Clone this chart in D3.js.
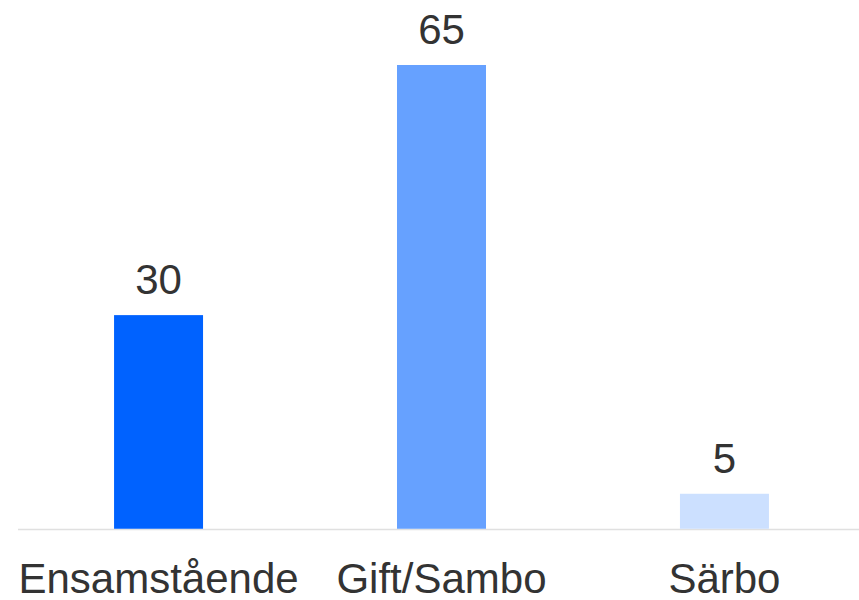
<!DOCTYPE html>
<html>
<head>
<meta charset="utf-8">
<script src="https://cdn.jsdelivr.net/npm/d3@7"></script>
<style>
  body { margin: 0; background: #fff; }
  text { font-family: "Liberation Sans", Arial, sans-serif; fill: #333; }
</style>
</head>
<body>
<svg id="chart" width="859" height="600"></svg>
<script>
var categories = ['Ensamstående', 'Gift/Sambo', 'Särbo'];
var values = [30, 65, 5];
var colors = ['#0062ff', '#66a1ff', '#cce0ff'];

var svg = d3.select('#chart');

var x = d3.scaleBand()
    .domain(categories)
    .range([17, 866])
    .paddingInner(0.6855)
    .paddingOuter(0.343);

var y = d3.scaleLinear()
    .domain([0, 65])
    .range([529.5, 65]);

// baseline
svg.append('line')
    .attr('x1', 18).attr('x2', 859)
    .attr('y1', y(0)).attr('y2', y(0))
    .attr('stroke', '#e0e0e0')
    .attr('stroke-width', 1.5);

svg.selectAll('rect.bar')
    .data(values)
  .enter().append('rect')
    .attr('class', 'bar')
    .attr('x', function(d, i) { return x(categories[i]); })
    .attr('y', function(d) { return y(d); })
    .attr('width', x.bandwidth())
    .attr('height', function(d) { return y(0) - y(d) - 0.75; })
    .attr('fill', function(d, i) { return colors[i]; });

// value labels
svg.selectAll('text.val')
    .data(values)
  .enter().append('text')
    .attr('class', 'val')
    .attr('x', function(d, i) { return x(categories[i]) + x.bandwidth() / 2; })
    .attr('y', function(d) { return y(d) - 21; })
    .attr('text-anchor', 'middle')
    .style('font-size', '42px')
    .text(function(d) { return d; });

// category labels
svg.selectAll('text.cat')
    .data(categories)
  .enter().append('text')
    .attr('class', 'cat')
    .attr('x', function(d) { return x(d) + x.bandwidth() / 2; })
    .attr('y', 593)
    .attr('text-anchor', 'middle')
    .style('font-size', '42px')
    .text(function(d) { return d; });
</script>
</body>
</html>
